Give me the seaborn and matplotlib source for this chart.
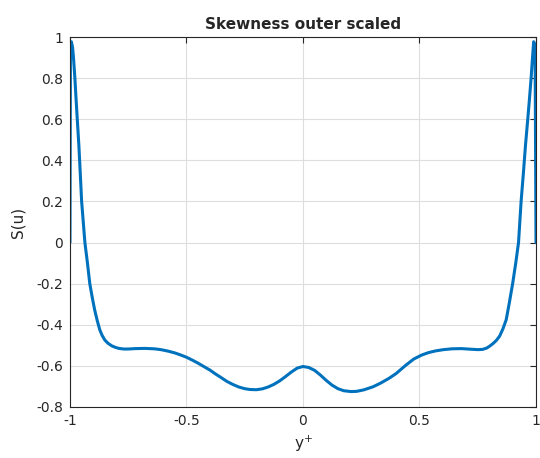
import numpy as np
import pandas as pd
import matplotlib
matplotlib.use("Agg")
import matplotlib.pyplot as plt
import seaborn as sns
from matplotlib.ticker import FuncFormatter

# Data
y_plus = [-1.0, -0.998, -0.994, -0.989, -0.985, -0.979, -0.974, -0.969, -0.962, -0.956,
          -0.950, -0.943, -0.936, -0.925, -0.915, -0.904, -0.894, -0.883, -0.872, -0.862,
          -0.850, -0.837, -0.820, -0.805, -0.790, -0.770, -0.750, -0.720, -0.680, -0.638,
          -0.610, -0.580, -0.550, -0.525, -0.500, -0.475, -0.450, -0.426, -0.400, -0.376,
          -0.350, -0.326, -0.300, -0.275, -0.250, -0.227, -0.200, -0.175, -0.150, -0.125,
          -0.100, -0.075, -0.050, -0.025, 0.0, 0.025, 0.050, 0.075, 0.100, 0.125,
          0.150, 0.175, 0.206, 0.230, 0.260, 0.300, 0.333, 0.370, 0.400, 0.440,
          0.475, 0.510, 0.540, 0.570, 0.603, 0.640, 0.680, 0.720, 0.750, 0.770,
          0.787, 0.800, 0.815, 0.830, 0.844, 0.858, 0.872, 0.886, 0.900, 0.913,
          0.925, 0.936, 0.946, 0.955, 0.965, 0.972, 0.979, 0.985, 0.990, 0.996, 1.0]
skew = [0.0, 0.96, 0.977, 0.95, 0.90, 0.80, 0.70, 0.605, 0.475, 0.34,
        0.20, 0.10, 0.0, -0.10, -0.20, -0.27, -0.328, -0.38, -0.425, -0.452,
        -0.475, -0.490, -0.503, -0.510, -0.515, -0.518, -0.518, -0.516, -0.515, -0.517,
        -0.521, -0.528, -0.537, -0.547, -0.558, -0.572, -0.587, -0.603, -0.620, -0.639,
        -0.658, -0.676, -0.691, -0.703, -0.711, -0.715, -0.716, -0.712, -0.703, -0.690,
        -0.673, -0.652, -0.630, -0.611, -0.603, -0.608, -0.622, -0.645, -0.671, -0.694,
        -0.711, -0.721, -0.725, -0.724, -0.717, -0.702, -0.684, -0.660, -0.637, -0.598,
        -0.567, -0.547, -0.535, -0.527, -0.521, -0.517, -0.516, -0.519, -0.521, -0.520,
        -0.514, -0.505, -0.492, -0.476, -0.455, -0.420, -0.376, -0.290, -0.198, -0.100,
        0.0, 0.199, 0.34, 0.475, 0.605, 0.70, 0.80, 0.90, 0.977, 0.96, 0.0]

x_ticks = [-1, -0.5, 0, 0.5, 1]
y_ticks = [-0.8, -0.6, -0.4, -0.2, 0, 0.2, 0.4, 0.6, 0.8, 1]

sns.set_style("white")
plt.rcParams['font.family'] = ['DejaVu Sans']

df = pd.DataFrame({"y+": y_plus, "S": skew})

fig = plt.figure(figsize=(5.4, 4.58), dpi=100)
ax = fig.add_axes([0.1296, 0.1114, 0.8630, 0.8078])

sns.lineplot(data=df, x="y+", y="S", ax=ax, color="#0072BD", linewidth=2.2,
             sort=False, estimator=None)

ax.set_xlim(-1, 1)
ax.set_ylim(-0.8, 1)
ax.set_xticks(x_ticks)
ax.set_yticks(y_ticks)
fmt = FuncFormatter(lambda v, p: ("%g" % round(v, 2)))
ax.xaxis.set_major_formatter(fmt)
ax.yaxis.set_major_formatter(fmt)

ax.grid(True, color="#dedede", linewidth=0.8)
ax.set_axisbelow(True)
for s in ax.spines.values():
    s.set_visible(True)
    s.set_color("#262626")
    s.set_linewidth(0.8)
ax.tick_params(direction="in", length=4, width=0.8, color="#262626",
               top=True, right=True, labelsize=10, labelcolor="#262626",
               pad=5)

ax.set_xlabel("y$^{+}$", fontsize=11, color="#262626", labelpad=4)
ax.set_ylabel("S(u)", fontsize=11, color="#262626", labelpad=8)
ax.set_title("Skewness outer scaled", fontsize=11, fontweight="bold", pad=6)

fig.savefig("out.png", dpi=100)
